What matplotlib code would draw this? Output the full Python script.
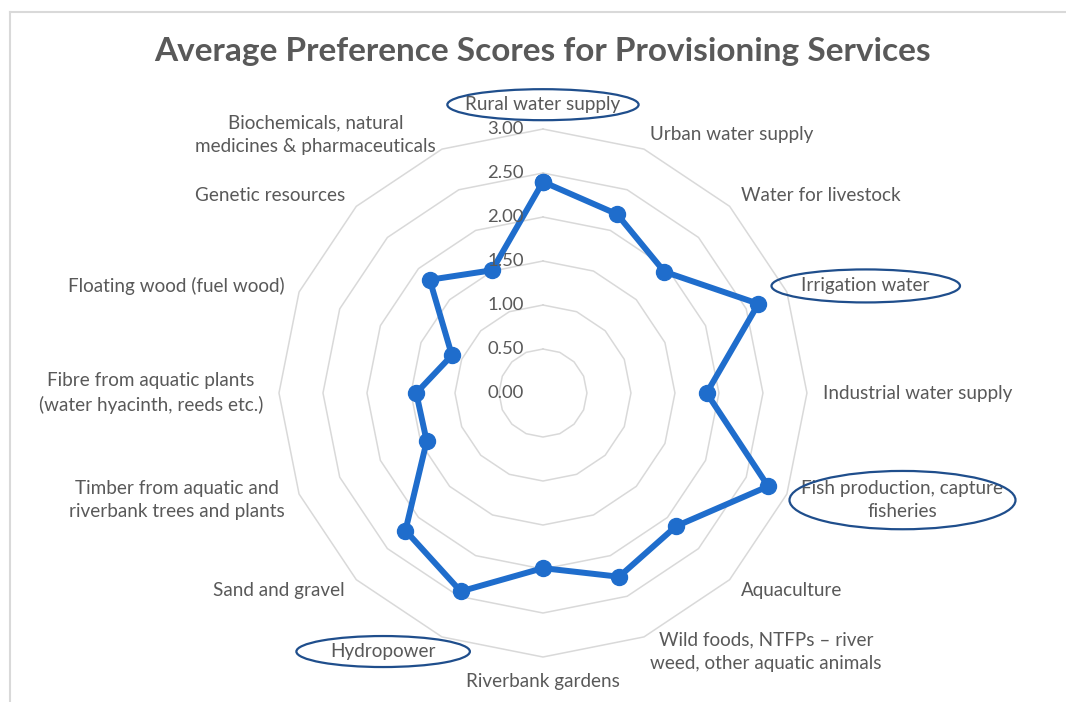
import numpy as np
import matplotlib.pyplot as plt
from matplotlib.patches import Ellipse
from matplotlib.lines import Line2D
from matplotlib.transforms import offset_copy, IdentityTransform

plt.rcParams['font.family'] = ['Lato', 'DejaVu Sans']

# categories clockwise from the top
categories = [
    'Rural water supply',
    'Urban water supply',
    'Water for livestock',
    'Irrigation water',
    'Industrial water supply',
    'Fish production, capture\nfisheries',
    'Aquaculture',
    'Wild foods, NTFPs – river\nweed, other aquatic animals',
    'Riverbank gardens',
    'Hydropower',
    'Sand and gravel',
    'Timber from aquatic and\nriverbank trees and plants',
    'Fibre from aquatic plants\n(water hyacinth, reeds etc.)',
    'Floating wood (fuel wood)',
    'Genetic resources',
    'Biochemicals, natural\nmedicines & pharmaceuticals',
]
scores = [2.40, 2.20, 1.95, 2.65, 1.86, 2.77, 2.14, 2.26,
          1.99, 2.44, 2.21, 1.43, 1.44, 1.12, 1.82, 1.51]
ticks = [0.0, 0.5, 1.0, 1.5, 2.0, 2.5, 3.0]

# labels circled in the original figure, with (x pad, y pad) in px
circled = {
    'Rural water supply': (18, 7),
    'Irrigation water': (30, 8),
    'Fish production, capture\nfisheries': (12, 9),
    'Hydropower': (34, 7),
}

txt_col = '#595959'
grid_col = '#d9d9d9'
line_col = '#1f6dcc'

fig = plt.figure(figsize=(10.66, 7.02), dpi=100)
ax = fig.add_axes([0.2617, 0.0641, 0.4953, 0.7521], polar=True)
ax.set_theta_zero_location('N')
ax.set_theta_direction(-1)
ax.set_ylim(0, 3)
ax.grid(False)
ax.spines['polar'].set_visible(False)
ax.set_xticks([])
ax.set_yticks([])
ax.patch.set_alpha(0)

n = len(categories)
angles = np.arange(n) * 2 * np.pi / n
closed = np.append(angles, angles[0])

# polygon gridlines
for t in ticks[1:]:
    ax.plot(closed, [t] * (n + 1), color=grid_col, lw=1.1, zorder=1, clip_on=False)

ax.plot(closed, scores + scores[:1], color=line_col, lw=4.3, marker='o',
        ms=11.5, zorder=3, clip_on=False, solid_joinstyle='round')

# radial tick labels to the left of the vertical axis
tick_tr = offset_copy(ax.transData, fig=fig, x=-19, y=0, units='dots')
for t in ticks:
    ax.text(0, t, f'{t:.2f}', transform=tick_tr, ha='right', va='center',
            fontsize=13.3, color=txt_col)

# category labels
label_texts = {}
for ang, lab in zip(angles, categories):
    s, c = np.sin(ang), np.cos(ang)
    ha = 'left' if s > 0.1 else ('right' if s < -0.1 else 'center')
    va = 'center'
    if abs(s) < 0.1:
        va = 'bottom' if c > 0 else 'top'
    label_texts[lab] = ax.text(ang, 3.18, lab, ha=ha, va=va, multialignment='center',
                               linespacing=1.45, fontsize=13.6, color=txt_col,
                               clip_on=False)

fig.text(0.509, 1 - 51 / 702, 'Average Preference Scores for Provisioning Services',
         ha='center', va='center', fontsize=24, fontweight='bold', color=txt_col)

# light frame on the left and top
fig.add_artist(Line2D([0.0094, 0.0094], [0, 0.983], color=grid_col, lw=1.5))
fig.add_artist(Line2D([0.0094, 1], [0.983, 0.983], color=grid_col, lw=1.5))

# ellipses round the highlighted labels
fig.canvas.draw()
renderer = fig.canvas.get_renderer()
for lab, (px, py) in circled.items():
    bb = label_texts[lab].get_window_extent(renderer)
    e = Ellipse(((bb.x0 + bb.x1) / 2, (bb.y0 + bb.y1) / 2),
                bb.width + 2 * px, bb.height + 2 * py,
                transform=IdentityTransform(), fill=False,
                edgecolor='#1f4e8c', lw=1.6)
    fig.add_artist(e)

fig.savefig('out.png', dpi=100)
